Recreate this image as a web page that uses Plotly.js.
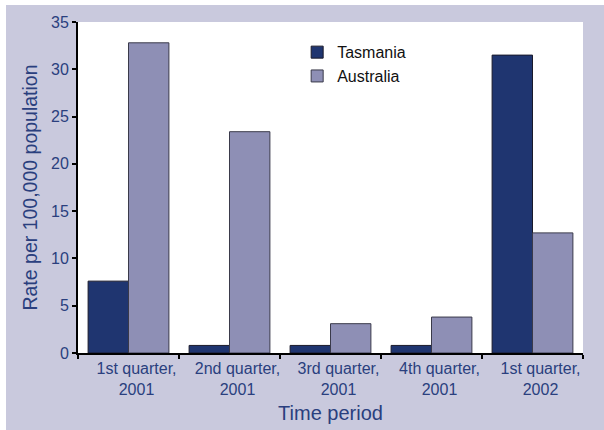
<!DOCTYPE html>
<html>
<head>
<meta charset="utf-8">
<script src="https://cdn.plot.ly/plotly-3.0.1.min.js"></script>
<style>
html, body { margin: 0; padding: 0; background: #ffffff; width: 604px; height: 430px; overflow: hidden; }
#chart { position: absolute; left: 6px; top: 5px; width: 598px; height: 425px; }
</style>
</head>
<body>
<div id="chart"></div>
<script>
const categories = ["1st quarter,<br>2001", "2nd quarter,<br>2001", "3rd quarter,<br>2001", "4th quarter,<br>2001", "1st quarter,<br>2002"];
const tasmania = [7.6, 0.8, 0.8, 0.8, 31.5];
const australia = [32.8, 23.4, 3.1, 3.8, 12.7];
const yTicks = [0, 5, 10, 15, 20, 25, 30, 35];

const textColor = "#2a3f7e";
const fontFamily = "Liberation Sans, Arial, sans-serif";
const traces = [
  { type: "bar", name: "Tasmania", x: categories, y: tasmania,
    marker: { color: "#1f3570", line: { color: "#1a1a2a", width: 1 } } },
  { type: "bar", name: "Australia", x: categories, y: australia,
    marker: { color: "#8e8fb5", line: { color: "#3a3a4a", width: 1 } } }
];
const layout = {
  width: 598, height: 425,
  margin: { l: 72, r: 21, t: 17, b: 77 },
  paper_bgcolor: "#c9c9dd",
  plot_bgcolor: "#ffffff",
  barmode: "group",
  bargap: 0.2,
  bargroupgap: 0,
  font: { family: fontFamily, color: textColor, size: 16 },
  showlegend: true,
  legend: { x: 0.434, y: 0.96, xanchor: "left", yanchor: "top", bgcolor: "rgba(0,0,0,0)",
            font: { family: fontFamily, color: "#111111", size: 16 }, itemwidth: 30, tracegroupgap: 0 },
  xaxis: {
    title: { text: "Time period", font: { family: fontFamily, size: 20, color: textColor }, standoff: 9 },
    showline: true, linecolor: "#000000", linewidth: 2,
    ticks: "outside", tickson: "boundaries", ticklen: 4, tickcolor: "#000000", tickwidth: 2,
    tickfont: { family: fontFamily, size: 16, color: textColor },
    ticklabelshift: 8,
    showgrid: false
  },
  yaxis: {
    title: { text: "Rate per 100,000 population", font: { family: fontFamily, size: 19.5, color: textColor }, standoff: 8 },
    range: [0, 35], tickvals: yTicks, ticktext: yTicks.map(String),
    showline: true, linecolor: "#000000", linewidth: 2,
    ticks: "outside", ticklen: 4, tickcolor: "#000000", tickwidth: 2,
    tickfont: { family: fontFamily, size: 16, color: textColor },
    showgrid: false, zeroline: false
  }
};
Plotly.newPlot("chart", traces, layout, { displayModeBar: false, staticPlot: true });
</script>
</body>
</html>
